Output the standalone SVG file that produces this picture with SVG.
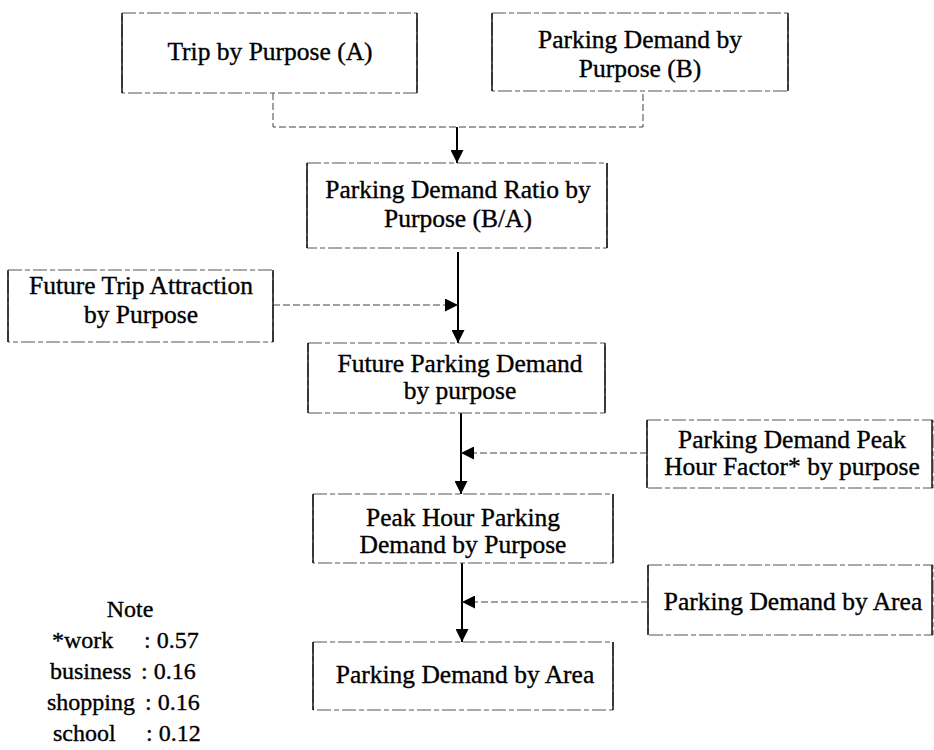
<svg xmlns="http://www.w3.org/2000/svg" width="934" height="750" viewBox="0 0 934 750">
<style>
  .bg{fill:#fff}
  .box{fill:none;stroke:#555;stroke-width:1;stroke-dasharray:14 3 5 3}
  .side{stroke:#111;stroke-width:1.5;fill:none}
  .t{font-family:"Liberation Serif","Times New Roman",serif;font-size:25.5px;fill:#000;stroke:#000;stroke-width:0.35;text-anchor:middle}
  .n{font-family:"Liberation Serif","Times New Roman",serif;font-size:24px;fill:#000;stroke:#000;stroke-width:0.35}
  .main{stroke:#000;stroke-width:2;fill:none}
  .dash{stroke:#444;stroke-width:1;stroke-dasharray:7 3;fill:none}
</style>
<defs>
  <marker id="ah" viewBox="0 0 10 10" refX="10" refY="5" markerWidth="15" markerHeight="13" markerUnits="userSpaceOnUse" orient="auto">
    <path d="M0,0 L10,5 L0,10 z" fill="#000"/>
  </marker>
</defs>
<rect class="bg" width="934" height="750"/>

<g id="connectors">
  <path class="dash" d="M273,93 V127 H643 V91"/>
  <line class="main" x1="457" y1="127" x2="457" y2="163" marker-end="url(#ah)"/>
  <line class="main" x1="458" y1="252" x2="458" y2="343" marker-end="url(#ah)"/>
  <line class="dash" x1="273" y1="305" x2="458" y2="305" marker-end="url(#ah)"/>
  <line class="main" x1="461" y1="413" x2="461" y2="494" marker-end="url(#ah)"/>
  <line class="dash" x1="647" y1="453" x2="461" y2="453" marker-end="url(#ah)"/>
  <line class="main" x1="462" y1="563" x2="462" y2="642" marker-end="url(#ah)"/>
  <line class="dash" x1="648" y1="602" x2="462" y2="602" marker-end="url(#ah)"/>
</g>

<g id="tripA">
  <rect class="box" x="122" y="13" width="295" height="80"/>
  <line class="side" x1="122" y1="13" x2="122" y2="93"/>
  <line class="side" x1="417" y1="13" x2="417" y2="93"/>
  <text class="t" x="270" y="60">Trip by Purpose (A)</text>
</g>

<g id="parkingB">
  <rect class="box" x="492" y="13" width="296" height="78"/>
  <line class="side" x1="492" y1="13" x2="492" y2="91"/>
  <line class="side" x1="788" y1="13" x2="788" y2="91"/>
  <text class="t" x="640" y="48">Parking Demand by</text>
  <text class="t" x="640" y="77">Purpose (B)</text>
</g>

<g id="ratio">
  <rect class="box" x="307" y="163" width="300" height="85"/>
  <line class="side" x1="307" y1="163" x2="307" y2="248"/>
  <line class="side" x1="607" y1="163" x2="607" y2="248"/>
  <text class="t" x="458" y="198">Parking Demand Ratio by</text>
  <text class="t" x="458" y="227">Purpose (B/A)</text>
</g>

<g id="futureTrip">
  <rect class="box" x="8" y="270" width="265" height="72"/>
  <line class="side" x1="8" y1="270" x2="8" y2="342"/>
  <line class="side" x1="273" y1="270" x2="273" y2="342"/>
  <text class="t" x="141" y="294">Future Trip Attraction</text>
  <text class="t" x="141" y="323">by Purpose</text>
</g>

<g id="futureParking">
  <rect class="box" x="308" y="343" width="297" height="70"/>
  <line class="side" x1="308" y1="343" x2="308" y2="413"/>
  <line class="side" x1="605" y1="343" x2="605" y2="413"/>
  <text class="t" x="460" y="372">Future Parking Demand</text>
  <text class="t" x="460" y="399">by purpose</text>
</g>

<g id="peakFactor">
  <rect class="box" x="647" y="420" width="286" height="68"/>
  <line class="side" x1="647" y1="420" x2="647" y2="488"/>
  <line class="side" x1="932" y1="420" x2="932" y2="488"/>
  <text class="t" x="792" y="448">Parking Demand Peak</text>
  <text class="t" x="792" y="475">Hour Factor* by purpose</text>
</g>

<g id="peakHour">
  <rect class="box" x="313" y="494" width="300" height="69"/>
  <line class="side" x1="313" y1="494" x2="313" y2="563"/>
  <line class="side" x1="613" y1="494" x2="613" y2="563"/>
  <text class="t" x="463" y="526">Peak Hour Parking</text>
  <text class="t" x="463" y="553">Demand by Purpose</text>
</g>

<g id="areaInput">
  <rect class="box" x="648" y="565" width="285" height="70"/>
  <line class="side" x1="648" y1="565" x2="648" y2="635"/>
  <line class="side" x1="932" y1="565" x2="932" y2="635"/>
  <text class="t" x="793" y="610">Parking Demand by Area</text>
</g>

<g id="areaResult">
  <rect class="box" x="313" y="642" width="300" height="68"/>
  <line class="side" x1="313" y1="642" x2="313" y2="710"/>
  <line class="side" x1="613" y1="642" x2="613" y2="710"/>
  <text class="t" x="465" y="683">Parking Demand by Area</text>
</g>

<g id="note">
  <text class="n" x="130" y="617" text-anchor="middle">Note</text>
  <text class="n" x="52" y="648">*work</text>
  <text class="n" x="144" y="648">: 0.57</text>
  <text class="n" x="50" y="679">business</text>
  <text class="n" x="141" y="679">: 0.16</text>
  <text class="n" x="47" y="710">shopping</text>
  <text class="n" x="145" y="710">: 0.16</text>
  <text class="n" x="53" y="741">school</text>
  <text class="n" x="146" y="741">: 0.12</text>
</g>
</svg>
